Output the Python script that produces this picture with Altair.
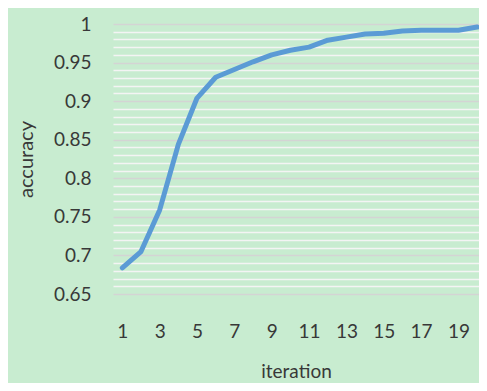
import altair as alt
import pandas as pd

iterations = list(range(1, 21))
accuracy = [0.684, 0.705, 0.759, 0.844, 0.904, 0.931, 0.941, 0.951, 0.960, 0.966,
            0.970, 0.979, 0.983, 0.987, 0.988, 0.991, 0.992, 0.992, 0.992, 0.996]
x_ticks = [1, 3, 5, 7, 9, 11, 13, 15, 17, 19]
y_ticks = [round(0.65 + 0.01 * i, 2) for i in range(36)]

df = pd.DataFrame({"iteration": iterations, "accuracy": accuracy})

FONT = "Lato"
TXT = "#383838"

line = alt.Chart(df).mark_line(color="#5b9bd5", strokeWidth=5, strokeCap="round", strokeJoin="round").encode(
    x=alt.X("iteration:Q",
            scale=alt.Scale(domain=[0.5, 20.1], nice=False, zero=False),
            axis=alt.Axis(values=x_ticks, title="iteration", grid=False, domain=False, ticks=False,
                          labelPadding=28, labelFontSize=19, labelColor=TXT, labelFont=FONT,
                          titleFontSize=19, titleColor=TXT, titleFont=FONT, titleFontWeight="normal",
                          titlePadding=21)),
    y=alt.Y("accuracy:Q",
            scale=alt.Scale(domain=[0.65, 1.0], nice=False, zero=False),
            axis=alt.Axis(values=y_ticks, title="accuracy", domain=False, ticks=False,
                          labelExpr="(round(datum.value*100) % 5 == 0) ? toString(round(datum.value*100)/100) : ''",
                          labelPadding=22, labelFontSize=19, labelColor=TXT, labelFont=FONT,
                          gridColor={"condition": {"test": "round(datum.value*100) % 5 == 0", "value": "#d4d4d4"}, "value": "#f4f4f4"},
                          gridWidth=1.6,
                          titleFontSize=20, titleColor=TXT, titleFont=FONT, titleFontWeight="normal",
                          titlePadding=17)),
)

chart = line.properties(
    width=366, height=270,
    background="#c8ecd0",
    padding={"left": 105, "top": 16, "right": 0, "bottom": 89},
    autosize=alt.AutoSizeParams(type="none"),
).configure_view(stroke=None, fill="#c8ecd0")

chart.save("out.html", embed_options={"renderer": "svg", "actions": False})
